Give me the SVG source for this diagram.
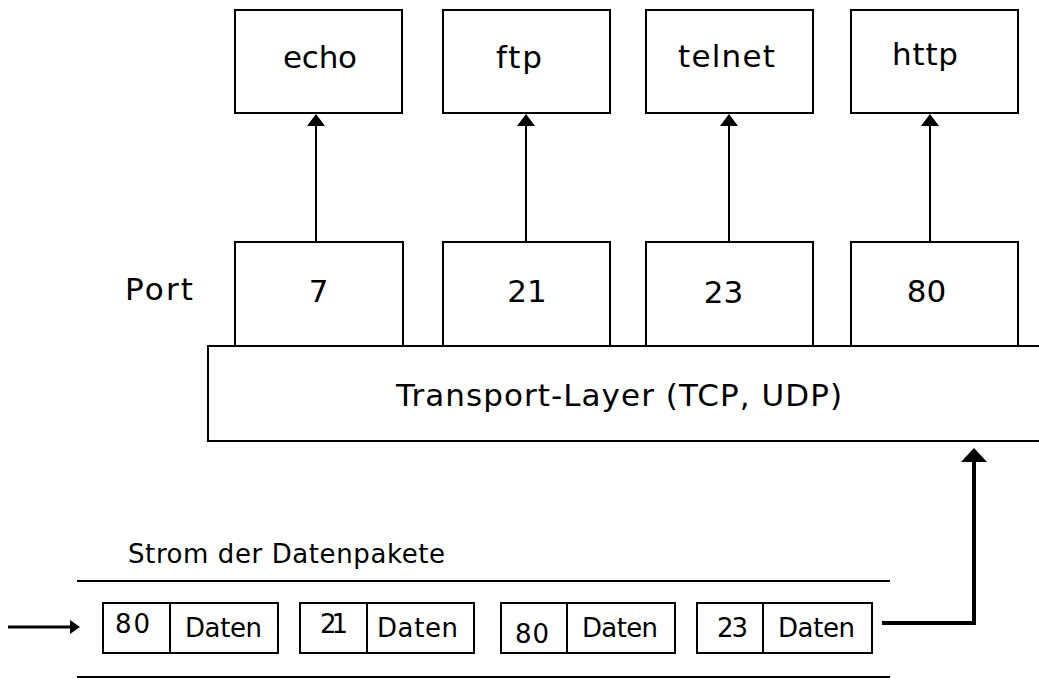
<svg xmlns="http://www.w3.org/2000/svg" width="1039" height="678" viewBox="0 0 1039 678">
  <style>
    .box { fill: #fff; stroke: #000; stroke-width: 2; }
    .rule { stroke: #000; stroke-width: 2; fill: none; }
    .lbl { font-family: "DejaVu Sans", "Liberation Sans", sans-serif; font-size: 31px; fill: #000; }
    .small { font-family: "DejaVu Sans", "Liberation Sans", sans-serif; font-size: 26px; fill: #000; }
    .link { stroke: #000; stroke-width: 2; fill: none; }
    .flow { stroke: #000; stroke-width: 4; fill: none; }
    .head { fill: #000; }
  </style>

  <rect width="1039" height="678" fill="#fff"/>

  <!-- applications -->
  <g id="app-echo">
    <rect class="box" x="235" y="10" width="167" height="103"/>
    <text class="lbl" x="283" y="68" textLength="74">echo</text>
  </g>
  <g id="app-ftp">
    <rect class="box" x="443" y="10" width="167" height="103"/>
    <text class="lbl" x="496" y="68" textLength="46">ftp</text>
  </g>
  <g id="app-telnet">
    <rect class="box" x="646" y="10" width="167" height="103"/>
    <text class="lbl" x="678" y="67" textLength="97">telnet</text>
  </g>
  <g id="app-http">
    <rect class="box" x="851" y="10" width="167" height="103"/>
    <text class="lbl" x="892" y="65" textLength="66">http</text>
  </g>

  <!-- ports -->
  <g id="port-label">
    <text class="lbl" x="125" y="300" textLength="68">Port</text>
  </g>
  <g id="port-7">
    <rect class="box" x="235" y="242" width="168" height="104"/>
    <text class="lbl" x="318.5" y="302" text-anchor="middle">7</text>
  </g>
  <g id="port-21">
    <rect class="box" x="443" y="242" width="167" height="104"/>
    <text class="lbl" x="527" y="302" text-anchor="middle">21</text>
  </g>
  <g id="port-23">
    <rect class="box" x="646" y="242" width="167" height="104"/>
    <text class="lbl" x="723.5" y="303" text-anchor="middle">23</text>
  </g>
  <g id="port-80">
    <rect class="box" x="851" y="242" width="167" height="104"/>
    <text class="lbl" x="926.5" y="302" text-anchor="middle">80</text>
  </g>

  <!-- transport layer (open on the right edge) -->
  <g id="transport">
    <rect x="208" y="346" width="840" height="95" fill="#fff"/>
    <path class="rule" d="M1039,346 H208 V441 H1039"/>
    <text class="lbl" x="396" y="406" textLength="446">Transport-Layer (TCP, UDP)</text>
  </g>

  <!-- packet stream -->
  <g id="stream">
    <text class="small" x="128" y="563" font-size="25" textLength="317">Strom der Datenpakete</text>
    <line class="rule" x1="77" y1="581" x2="890" y2="581"/>
    <line class="rule" x1="77" y1="677" x2="890" y2="677"/>
  </g>
  <g id="packet-1">
    <rect class="box" x="103" y="603" width="175" height="50"/>
    <line class="rule" x1="170" y1="603" x2="170" y2="653"/>
    <text class="small" x="115" y="633" textLength="35">80</text>
    <text class="small" x="185" y="637" textLength="77">Daten</text>
  </g>
  <g id="packet-2">
    <rect class="box" x="300" y="603" width="174" height="50"/>
    <line class="rule" x1="367" y1="603" x2="367" y2="653"/>
    <text class="small" x="320" y="633" textLength="28">21</text>
    <text class="small" x="377" y="637" textLength="81">Daten</text>
  </g>
  <g id="packet-3">
    <rect class="box" x="501" y="603" width="174" height="50"/>
    <line class="rule" x1="567" y1="603" x2="567" y2="653"/>
    <text class="small" x="515" y="643" textLength="34">80</text>
    <text class="small" x="582" y="637" textLength="76">Daten</text>
  </g>
  <g id="packet-4">
    <rect class="box" x="697" y="603" width="175" height="50"/>
    <line class="rule" x1="763" y1="603" x2="763" y2="653"/>
    <text class="small" x="717" y="637" textLength="31">23</text>
    <text class="small" x="778" y="637" textLength="77">Daten</text>
  </g>

  <!-- connectors -->
  <g id="connectors">
    <line class="link" x1="316" y1="242" x2="316" y2="124"/>
    <polygon class="head" points="316,114 307,126 325,126"/>
    <line class="link" x1="526" y1="242" x2="526" y2="124"/>
    <polygon class="head" points="526,114 517,126 535,126"/>
    <line class="link" x1="729" y1="242" x2="729" y2="124"/>
    <polygon class="head" points="729,114 720,126 738,126"/>
    <line class="link" x1="930" y1="242" x2="930" y2="124"/>
    <polygon class="head" points="930,114 921,126 939,126"/>

    <line x1="8" y1="627" x2="72" y2="627" stroke="#000" stroke-width="3"/>
    <polygon class="head" points="80,627 70,620 70,634"/>

    <path class="flow" d="M882,623 H974 V460"/>
    <polygon class="head" points="974,448 961,462 987,462"/>
  </g>
</svg>
